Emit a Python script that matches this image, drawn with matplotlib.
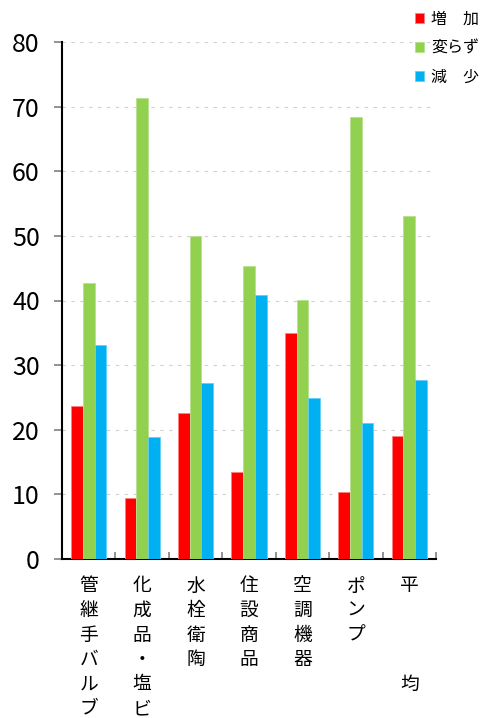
import numpy as np
import matplotlib.pyplot as plt
import matplotlib.transforms as mtransforms

plt.rcParams['font.family'] = ['Noto Sans CJK JP', 'DejaVu Sans']

# データ
categories = ['管継手バルブ', '化成品・塩ビ', '水栓衛陶', '住設商品', '空調機器', 'ポンプ', '平\u3000\u3000\u3000均']
zouka = [23.7, 9.4, 22.6, 13.5, 35.0, 10.4, 19.0]
kawarazu = [42.7, 71.4, 50.0, 45.4, 40.1, 68.4, 53.1]
genshou = [33.1, 18.9, 27.2, 40.9, 24.9, 21.1, 27.7]
series_labels = ['増\u3000加', '変らず', '減\u3000少']
colors = ['#FF0000', '#92D050', '#00B0F0']
edges = ['#FF8080', '#B8E090', '#60D0F8']

fig = plt.figure(figsize=(4.85, 7.18), dpi=100)
ax = fig.add_axes([62 / 485, 159 / 718, 374 / 485, 517 / 718])

x = np.arange(len(categories))
w = 0.22
handles = []
for i, (vals, c, ec, lab) in enumerate(zip([zouka, kawarazu, genshou], colors, edges, series_labels)):
    b = ax.bar(x + (i - 1) * w, vals, w, color=c, edgecolor=ec, linewidth=0.6, label=lab, zorder=3)
    handles.append(b)

ax.set_xlim(-0.5, len(categories) - 0.5)
ax.set_ylim(0, 80)
ax.set_yticks(np.arange(0, 81, 10))
ax.tick_params(axis='y', direction='out', length=6, width=1.2, color='#808080', labelsize=18, pad=10)
ax.set_xticks(np.arange(-0.5, len(categories), 1))
ax.set_xticklabels([])
ax.tick_params(axis='x', direction='in', length=5, width=1.2, color='#808080')
ax.yaxis.grid(True, linestyle=(0, (3, 5)), color='#D0D0D0', linewidth=0.8, zorder=0)

for side in ['top', 'right']:
    ax.spines[side].set_visible(False)
ax.spines['left'].set_linewidth(1.5)
ax.spines['bottom'].set_linewidth(1.5)

# 縦書きの項目名
trans = mtransforms.blended_transform_factory(ax.transData, fig.transFigure)
for xi, name in zip(x, categories):
    for j, ch in enumerate(name):
        if ch == '\u3000':
            continue
        ax.text(xi, 1 - (586 + j * 24.5) / 718, ch, transform=trans, ha='center', va='center',
                fontsize=13.5, clip_on=False)

leg = fig.legend(handles=handles, labels=series_labels, loc='upper left',
                 bbox_to_anchor=(401 / 485, 1 + 4 / 718), frameon=False, fontsize=11.5,
                 handlelength=0.55, handleheight=0.55, handletextpad=0.45, labelspacing=0.76)

fig.savefig('out.png', dpi=100)
